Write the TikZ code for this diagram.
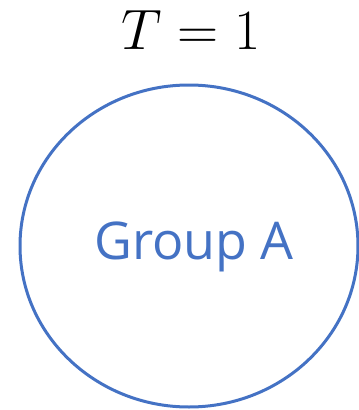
\documentclass[tikz,border=0pt]{standalone}
\usepackage{fontspec}
\usepackage{graphicx}
\newfontfamily\grpfont{Open Sans}
\definecolor{accentblue}{RGB}{68,114,196}
\usetikzlibrary{shapes.geometric}
\tikzset{
  grp/.style={draw=accentblue, line width=3pt, ellipse},
  lbl/.style={text=accentblue, font=\grpfont\fontsize{52}{56}\selectfont},
}
\begin{document}
\begin{tikzpicture}[x=1pt,y=-1pt]
\useasboundingbox (0,0) rectangle (359,410);
\node[grp, minimum width=338pt, minimum height=322pt, inner sep=0pt] (A) at (189,246) {};
\node[lbl] (Alabel) at (194,247) {Group A};
\node (T) at (191,30) {\scalebox{2.29}{\Huge $T = 1$}};
\end{tikzpicture}
\end{document}
